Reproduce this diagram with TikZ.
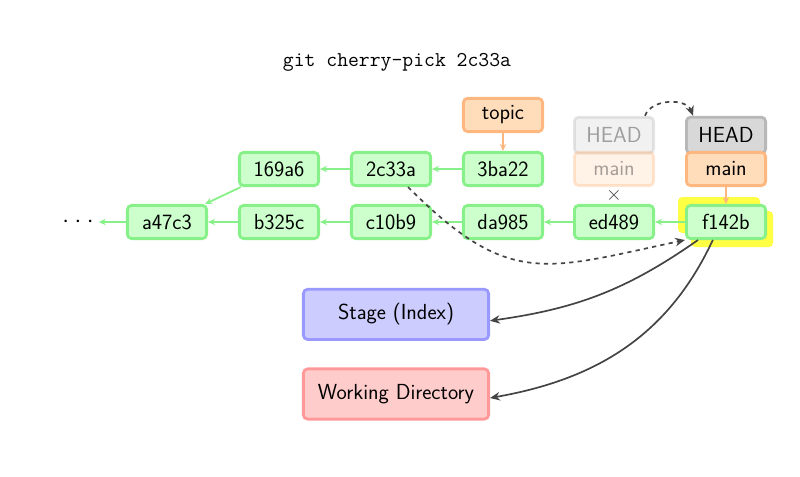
\documentclass[tikz,border=0pt]{standalone}
\usepackage{xcolor}
\usetikzlibrary{positioning, arrows.meta, calc}

\definecolor{commitfill}{HTML}{CCFFCC}
\definecolor{commitdraw}{HTML}{88F088}
\definecolor{branchfill}{HTML}{FFDDBB}
\definecolor{branchdraw}{HTML}{FFB780}
\definecolor{headfill}{HTML}{D8D8D8}
\definecolor{headdraw}{HTML}{B8B8B8}
\definecolor{stagefill}{HTML}{CCCCFF}
\definecolor{stagedraw}{HTML}{9999FF}
\definecolor{workfill}{HTML}{FFCCCC}
\definecolor{workdraw}{HTML}{FF9999}
\definecolor{darkarr}{HTML}{444444}
\definecolor{hilite}{HTML}{FFFF44}

\begin{document}
\begin{tikzpicture}[
    >=Stealth,
    box/.style={
        line width=2pt, rounded corners=3pt,
        minimum height=0.83cm, minimum width=1.98cm,
        font=\sffamily\fontsize{15.5}{18}\selectfont, inner sep=2pt,
        text centered, align=center
    },
    commit/.style={box, draw=commitdraw, fill=commitfill},
    branch/.style={box, draw=branchdraw, fill=branchfill},
    head/.style={box, draw=headdraw, fill=headfill, minimum height=0.9cm},
    faded/.style={opacity=0.35},
    glow/.style={fill=hilite, rounded corners=3pt,
        minimum height=0.9cm, minimum width=2.05cm, inner sep=0pt},
    area/.style={box, minimum width=4.63cm, minimum height=1.255cm},
    parent/.style={->, commitdraw, line width=1.3pt, >={Stealth[length=5pt, width=4.5pt]}},
    ref/.style={->, branchdraw, line width=1.3pt, >={Stealth[length=5pt, width=4.5pt]}},
    move/.style={->, darkarr, line width=1.2pt, >={Stealth[length=7pt, width=6pt]}},
    dashmove/.style={move, dash pattern=on 3pt off 3pt}
]
    \useasboundingbox (0,0) rectangle (20,-11.925);

    \node[font=\ttfamily\fontsize{15}{18}\selectfont] (title) at (9.925,-1.55) {git cherry-pick 2c33a};

    % yellow glow behind the new commit
    \node[glow] (glowa) at (17.975,-5.375) {};
    \node[glow] (glowb) at (18.3,-5.725) {};

    \node[font=\fontsize{16}{18}\selectfont] (dots) at (1.95,-5.55) {$\cdot$\hspace{4pt}$\cdot$\hspace{4pt}$\cdot$};
    \node[commit] (ca47c3) at (4.175,-5.55) {a47c3};
    \node[commit] (cb325c) at (6.975,-5.55) {b325c};
    \node[commit] (cc10b9) at (9.775,-5.55) {c10b9};
    \node[commit] (cda985) at (12.575,-5.55) {da985};
    \node[commit] (ced489) at (15.35,-5.55) {ed489};
    \node[commit] (cf142b) at (18.15,-5.55) {f142b};

    \node[commit] (c169a6) at (6.975,-4.225) {169a6};
    \node[commit] (c2c33a) at (9.775,-4.225) {2c33a};
    \node[commit] (c3ba22) at (12.575,-4.225) {3ba22};

    \node[branch] (topic) at (12.575,-2.875) {topic};

    \node[head, faded] (headold) at (15.35,-3.38) {HEAD};
    \node[branch, faded] (mainold) at (15.35,-4.225) {main};
    \node[head] (headnew) at (18.15,-3.38) {HEAD};
    \node[branch] (mainnew) at (18.15,-4.225) {main};

    \node[area, draw=stagedraw, fill=stagefill] (stage) at (9.9,-7.86) {Stage (Index)};
    \node[area, draw=workdraw, fill=workfill] (work) at (9.9,-9.85) {Working Directory};

    \draw[parent] (ca47c3) -- (dots);
    \draw[parent] (cb325c) -- (ca47c3);
    \draw[parent] (cc10b9) -- (cb325c);
    \draw[parent] (cda985) -- (cc10b9);
    \draw[parent] (ced489) -- (cda985);
    \draw[parent] (cf142b) -- (ced489);
    \draw[parent] (c169a6) -- (ca47c3);
    \draw[parent] (c2c33a) -- (c169a6);
    \draw[parent] (c3ba22) -- (c2c33a);

    \draw[ref] (topic) -- (c3ba22);
    \draw[ref] (mainnew) -- (cf142b);
    \path (mainold) -- node[darkarr, font=\Large] {$\times$} (ced489);

    \draw[dashmove] ([xshift=-0.25cm]headold.north east) to[out=70, in=110] ([xshift=0.2cm]headnew.north west);
    \draw[dashmove] ([xshift=0.425cm]c2c33a.south) to[out=-45, in=192, looseness=1.3] (cf142b.south west);
    \draw[move] ([xshift=-0.7cm]cf142b.south) to[out=-145, in=8] ([yshift=-0.16cm]stage.east);
    \draw[move] ([xshift=-0.33cm]cf142b.south) to[out=-115, in=10] ([yshift=-0.1cm]work.east);
\end{tikzpicture}
\end{document}
